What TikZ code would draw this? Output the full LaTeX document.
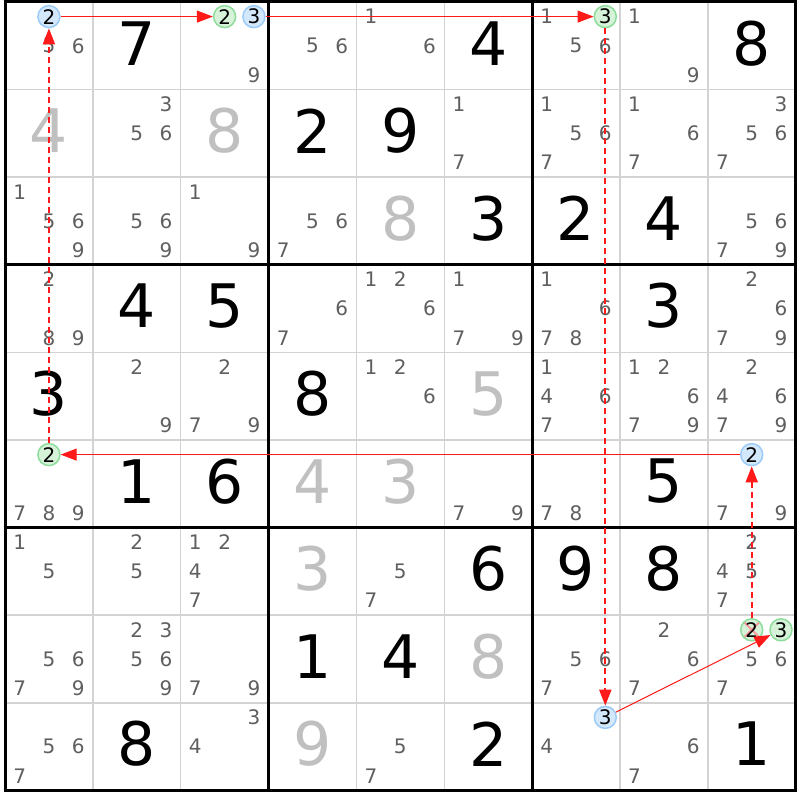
\documentclass[tikz,border=0pt]{standalone}
\usepackage{fontspec}
\setmainfont{DejaVu Sans}
\usetikzlibrary{arrows.meta}

\definecolor{candgray}{HTML}{5F5F5F}
\definecolor{solvedgray}{HTML}{C0C0C0}
\definecolor{thingray}{HTML}{D3D3D3}
\definecolor{markblue}{HTML}{D4E8FB}
\definecolor{markblueline}{HTML}{9CCBF7}
\definecolor{markgreen}{HTML}{D6F3DA}
\definecolor{markgreenline}{HTML}{8EDC9C}
\definecolor{linkred}{HTML}{FF1A1A}
\definecolor{crosspink}{HTML}{F59A9A}

% centre of candidate #3 in row #1, column #2
\newcommand\candxy[3]{%
  \pgfmathsetmacro\candX{5+(#2-1)*87.85+(mod(#3-1,3)+0.5)*29.28}%
  \pgfmathsetmacro\candY{2+(#1-1)*87.6+(floor((#3-1)/3)+0.5)*29.2}}

\begin{document}
\begin{tikzpicture}[x=1pt,y=-1pt,
  thinline/.style={draw=thingray,line width=1.5pt},
  boxline/.style={draw=black,line width=3pt},
  cand/.style={inner sep=0pt,text=candgray,font=\fontsize{20}{20}\selectfont},
  given/.style={inner sep=0pt,text=black,font=\fontsize{60}{60}\selectfont},
  solved/.style={given,text=solvedgray},
  bluemark/.style={circle,inner sep=0pt,minimum size=22pt,line width=1.5pt,
    draw=markblueline,fill=markblue,font=\fontsize{20}{20}\selectfont},
  greenmark/.style={bluemark,draw=markgreenline,fill=markgreen},
  struck/.style={path picture={
    \draw[crosspink,line width=2pt]
      (path picture bounding box.north west) -- (path picture bounding box.south east)
      (path picture bounding box.north east) -- (path picture bounding box.south west);}},
  link/.style={draw=linkred,line width=1pt,-{Triangle[length=16pt,width=12pt]}},
  weak/.style={link,line width=2pt,dash pattern=on 6pt off 4pt}]

\fill[white] (0,0) rectangle (800,800);
\useasboundingbox (0,0) rectangle (800,800);

% grid
\foreach \i in {1,2,4,5,7,8} {
  \draw[thinline] ({5+\i*87.85},2) -- ({5+\i*87.85},790.4);
  \draw[thinline] (5,{2+\i*87.6}) -- (795.65,{2+\i*87.6});
}
\foreach \i in {0,3,6,9} {
  \draw[boxline] ({5+\i*87.85},0.5) -- ({5+\i*87.85},791.9);
  \draw[boxline] (3.5,{2+\i*87.6}) -- (797.15,{2+\i*87.6});
}

% candidates
\foreach \r/\c/\lst in {1/1/{5,6},1/3/{9},1/4/{5,6},1/5/{1,6},1/7/{1,5,6},1/8/{1,9},
  2/2/{3,5,6},2/6/{1,7},2/7/{1,5,6,7},2/8/{1,6,7},2/9/{3,5,6,7},
  3/1/{1,5,6,9},3/2/{5,6,9},3/3/{1,9},3/4/{5,6,7},3/9/{5,6,7,9},
  4/1/{2,8,9},4/4/{6,7},4/5/{1,2,6},4/6/{1,7,9},4/7/{1,6,7,8},4/9/{2,6,7,9},
  5/2/{2,9},5/3/{2,7,9},5/5/{1,2,6},5/7/{1,4,6,7},5/8/{1,2,6,7,9},5/9/{2,4,6,7,9},
  6/1/{7,8,9},6/6/{7,9},6/7/{7,8},6/9/{7,9},
  7/1/{1,5},7/2/{2,5},7/3/{1,2,4,7},7/5/{5,7},7/9/{2,4,5,7},
  8/1/{5,6,7,9},8/2/{2,3,5,6,9},8/3/{7,9},8/7/{5,6,7},8/8/{2,6,7},8/9/{5,6,7},
  9/1/{5,6,7},9/3/{3,4},9/5/{5,7},9/7/{4},9/8/{6,7}} {
  \foreach \dg in \lst {
    \candxy{\r}{\c}{\dg}
    \node[cand] (k\r\c\dg) at (\candX,\candY) {\dg};
  }
}

% filled cells
\foreach \r/\c/\v in {1/2/7,1/6/4,1/9/8,2/4/2,2/5/9,3/6/3,3/7/2,3/8/4,
  4/2/4,4/3/5,4/8/3,5/1/3,5/4/8,6/2/1,6/3/6,6/8/5,
  7/6/6,7/7/9,7/8/8,8/4/1,8/5/4,9/2/8,9/6/2,9/9/1}
  \node[given] (big\r\c) at ({5+(\c-0.5)*87.85},{2+(\r-0.5)*87.6-2.5}) {\v};
\foreach \r/\c/\v in {2/1/4,2/3/8,3/5/8,5/6/5,6/4/4,6/5/3,7/4/3,8/6/8,9/4/9}
  \node[solved] (big\r\c) at ({5+(\c-0.5)*87.85},{2+(\r-0.5)*87.6-2.5}) {\v};

% marked candidates
\candxy{1}{1}{2} \node[bluemark] (b11two) at (\candX,\candY) {2};
\candxy{1}{3}{2} \node[greenmark] (g13two) at (\candX,\candY) {2};
\candxy{1}{3}{3} \node[bluemark] (b13three) at (\candX,\candY) {3};
\candxy{1}{7}{3} \node[greenmark] (g17three) at (\candX,\candY) {3};
\candxy{9}{7}{3} \node[bluemark] (b97three) at (\candX,\candY) {3};
\candxy{8}{9}{2} \node[greenmark,struck] (g89two) at (\candX,\candY) {2};
\candxy{8}{9}{3} \node[greenmark] (g89three) at (\candX,\candY) {3};
\candxy{6}{9}{2} \node[bluemark] (b69two) at (\candX,\candY) {2};
\candxy{6}{1}{2} \node[greenmark] (g61two) at (\candX,\candY) {2};

% chain
\draw[link] (b11two) -- (g13two);
\draw[link] (b13three) -- (g17three);
\draw[weak] (g17three) -- (b97three);
\draw[link] (b97three) -- (g89three);
\draw[weak] (g89two) -- (b69two);
\draw[link] (b69two) -- (g61two);
\draw[weak] (g61two) -- (b11two);
\end{tikzpicture}
\end{document}
